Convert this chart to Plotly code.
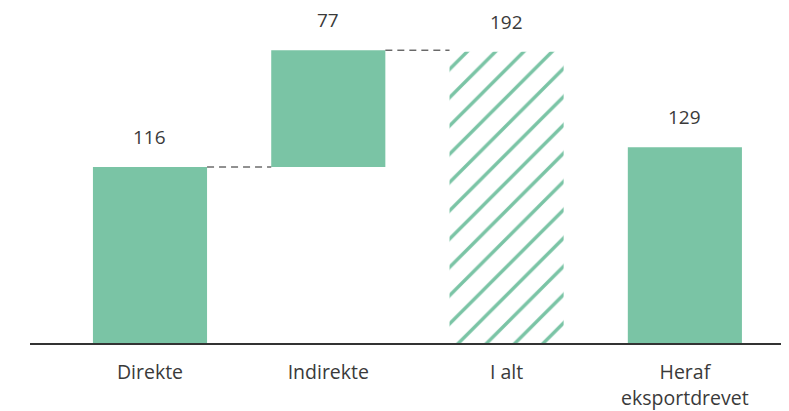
import plotly.graph_objects as go

categories = ["Direkte", "Indirekte", "I alt", "Heraf<br>eksportdrevet"]
values = [116, 77, 192, 129]
bases = [0, 116, 0, 0]
labels = ["116", "77", "192", "129"]

GREEN = "#7AC4A5"
TEXT = "#3a3a3a"
FONT = "Open Sans"

xs = list(range(len(categories)))
bw = 0.64

fig = go.Figure()
solid_idx = [0, 1, 3]
fig.add_trace(go.Bar(
    x=[xs[i] for i in solid_idx],
    y=[values[i] for i in solid_idx],
    base=[bases[i] for i in solid_idx],
    width=bw,
    marker=dict(color=GREEN, line=dict(width=0)),
    hoverinfo="skip",
))
fig.add_trace(go.Bar(
    x=[xs[2]], y=[values[2]], base=[bases[2]], width=bw,
    marker=dict(color="white", line=dict(width=0),
                pattern=dict(shape="/", fgcolor=GREEN, bgcolor="white",
                             fgopacity=1, size=20, solidity=0.17)),
    hoverinfo="skip",
))

for i in range(len(categories)):
    top = bases[i] + values[i]
    fig.add_annotation(x=xs[i], y=top, text=labels[i], showarrow=False,
                       yanchor="middle", yshift=30,
                       font=dict(family=FONT, size=19, color=TEXT))

# connectors
conn = [(0, values[0]), (1, bases[1] + values[1])]
for i, yv in conn:
    fig.add_shape(type="line", x0=xs[i] + bw / 2, x1=xs[i + 1] - bw / 2,
                  y0=yv, y1=yv, line=dict(color="#222222", width=1, dash="7px,5px"))

fig.update_layout(
    width=789, height=411,
    margin=dict(l=22, r=8, t=0, b=76, autoexpand=False),
    paper_bgcolor="white", plot_bgcolor="white",
    showlegend=False, barmode="overlay",
    xaxis=dict(tickmode="array", tickvals=xs, ticktext=categories,
               range=[-0.673, 3.584], showgrid=False, zeroline=False,
               showline=True, linecolor="#333333", linewidth=2,
               ticks="", ticklen=0, ticklabelstandoff=11,
               tickfont=dict(family=FONT, size=19.5, color=TEXT)),
    yaxis=dict(range=[0, 220.8], visible=False, showgrid=False, zeroline=False),
)

fig.write_html("out.html")
